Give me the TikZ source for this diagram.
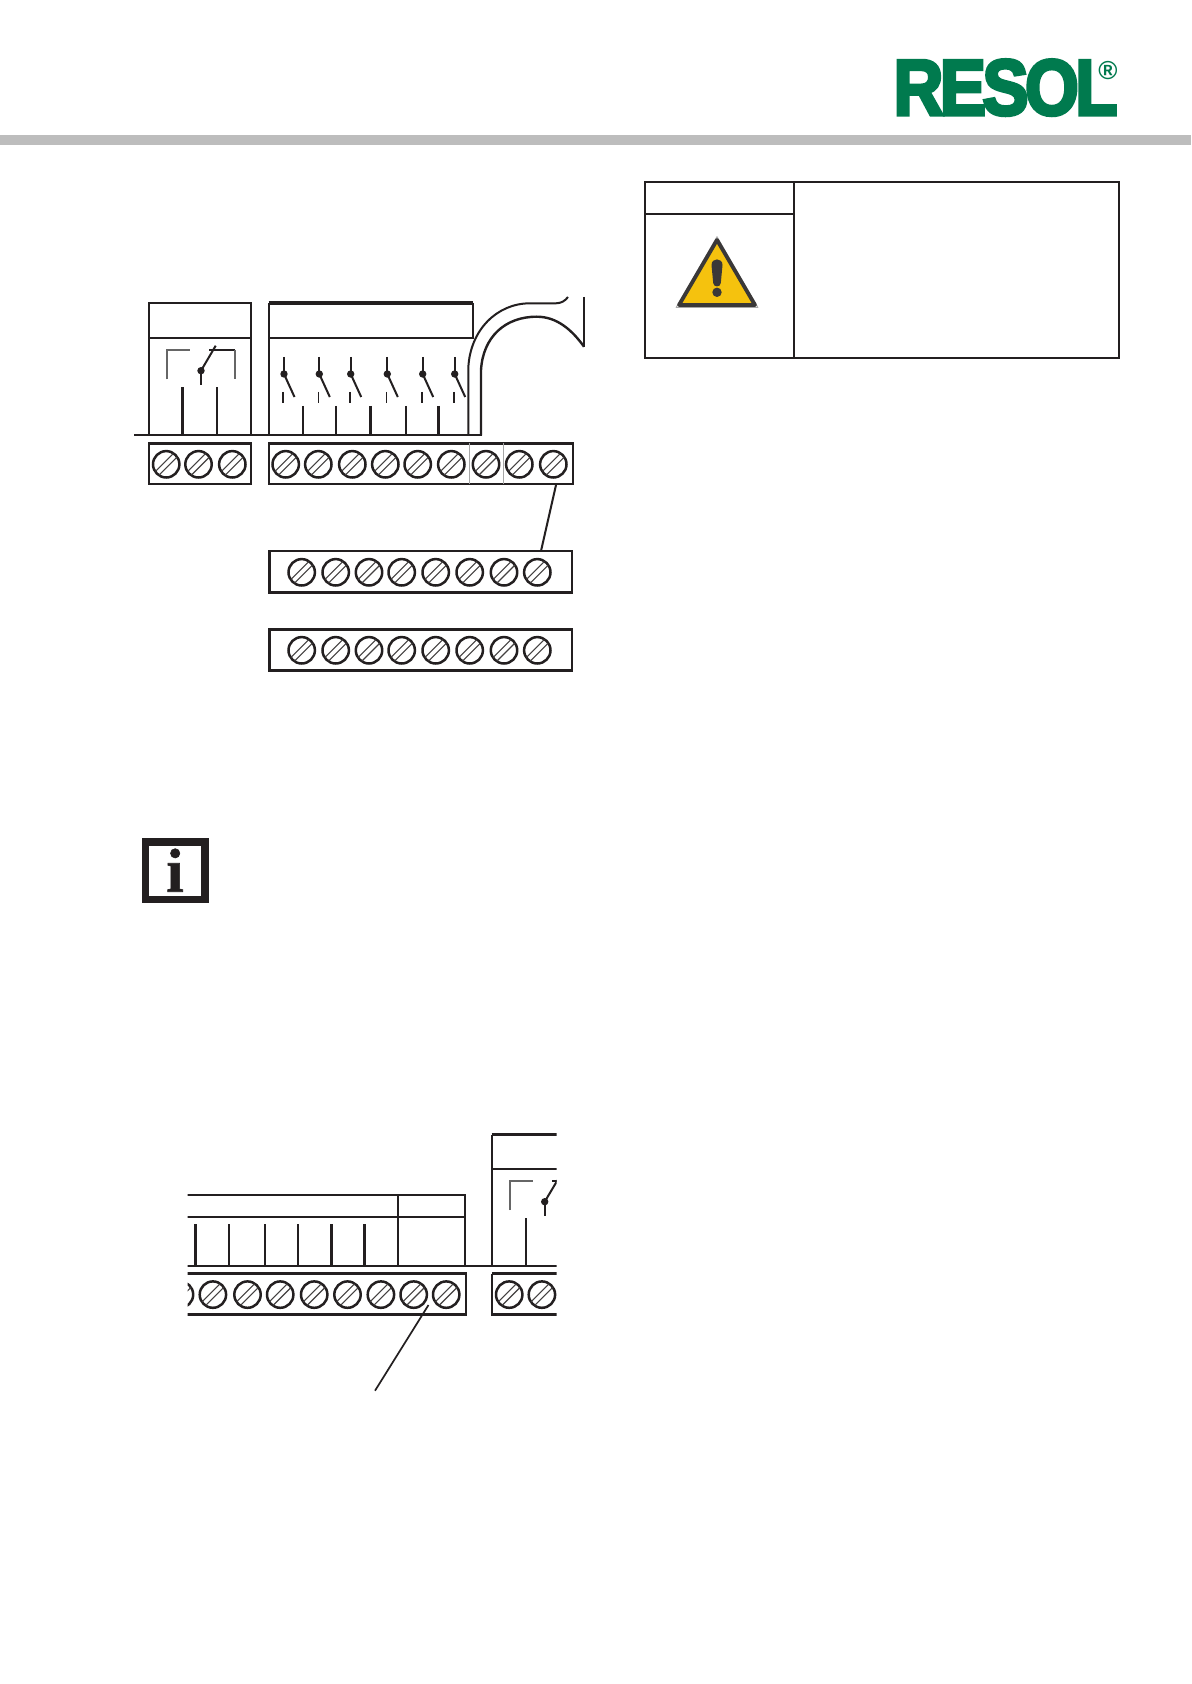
\documentclass[tikz,border=0pt]{standalone}
\usepackage{fontspec}
\setmainfont{Liberation Sans}
\newfontfamily\logofont[FakeBold=4.5,LetterSpace=-5]{Liberation Sans Bold}
\newfontfamily\regfont{Liberation Sans Bold}
\newfontfamily\infofont[FakeBold=1]{Liberation Serif Bold}
\definecolor{resolgreen}{HTML}{007A4E}
\definecolor{barcol}{HTML}{BDBDBD}
\definecolor{inkcol}{HTML}{231F20}
\definecolor{warnyellow}{HTML}{F5C20E}
\definecolor{warnink}{HTML}{3A3838}
\tikzset{
  thinl/.style={line width=1pt,draw=inkcol},
  hairl/.style={line width=1pt,draw=black!60},
  stem/.style={line width=1pt,draw=inkcol},
  stemb/.style={line width=1.5pt,draw=inkcol},
  blockbox/.style={line width=1.25pt,draw=inkcol},
  screw/.pic={
    \draw[line width=1.25pt,draw=inkcol,fill=white] (0,0) circle (13.2);
    \draw[line width=.55pt,draw=inkcol!85] (10.74,-7.06) -- (-7.06,10.74);
    \draw[line width=.55pt,draw=inkcol!85] (7.06,-10.74) -- (-10.74,7.06);
  },
  closedsw/.pic={
    \draw[stem] (0,-17) -- (0,0);
    \fill[inkcol] (0,0) circle (3.7);
    \draw[stem] (0,0) -- (10.5,23);
    \draw[stem,line width=.8pt] (-1,18) -- (-1,29);
  }
}
\begin{document}
\begin{tikzpicture}[x=.5pt,y=-.5pt]
\useasboundingbox (0,0) rectangle (1191,1684);
\fill[white] (0,0) rectangle (1191,1684);
% header
\fill[barcol] (0,135) rectangle (1191,145.5);
\node[inner sep=0,outer sep=0,anchor=south west,text=resolgreen] (logo) at (893.5,115.5)
  {\resizebox{112pt}{27.5pt}{\logofont RESOL}\llap{\raisebox{17.6pt}{\regfont\fontsize{13}{13}\selectfont ®}}};
% warning table
\draw[line width=1.05pt,draw=inkcol] (645,182) rectangle (1119,357.7);
\draw[line width=1.05pt,draw=inkcol] (794,182) -- (794,357.7);
\draw[line width=1.05pt,draw=inkcol] (645,213.7) -- (794,213.7);
\draw[line width=.35pt,draw=black!35,fill=white,line join=round] (717,236.5) -- (758,307.5) -- (676,307.5) -- cycle;
\draw[line width=1.9pt,draw=warnink,fill=warnyellow,line join=round] (717,240) -- (755,305) -- (679,305) -- cycle;
\fill[warnink] (711.5,265) .. controls (711.5,257.5) and (722.5,257.5) .. (722.5,265)
  -- (720.8,283) .. controls (720.8,287.5) and (713.2,287.5) .. (713.2,283) -- cycle;
\fill[warnink] (717,292.3) circle (4.7);
% info icon
\draw[line width=3.6pt,draw=inkcol,fill=white] (145.6,842) rectangle (205,899.2);
\node[inner sep=0,font=\infofont\fontsize{31}{31}\selectfont,text=inkcol,anchor=base] (infoi) at (175,891.7) {i};
% upper-left wiring
\draw[thinl] (134,435.3) -- (482,435.3);
\draw[thinl] (149,435.3) |- (251,303) -- (251,435.3);
\draw[thinl] (149,338) -- (251,338);
\draw[thinl] (269,435.3) -- (269,303);
\draw[line width=1.6pt,draw=inkcol] (268.5,303) -- (473,303);
\draw[thinl] (473,303) -- (473,338) -- (269,338);
\draw[hairl] (166.7,379.3) -- (166.7,350) -- (190.3,350);
\draw[thinl] (209.3,350) -- (234.7,350);
\draw[hairl] (234.7,350) -- (234.7,379.3);
\fill[inkcol] (201,370.7) circle (3.7);
\draw[stem] (201,370.7) -- (215.7,345.7);
\draw[stem] (201,370.7) -- (201,385);
\draw[stemb] (182.3,387.3) -- (182.3,435.3);
\draw[stem] (216.7,387.3) -- (216.7,435.3);
\foreach \sx in {284,319.3,350.7,387.3,422.7,454.7}
  \pic at (\sx,374) {closedsw};
\foreach \sx/\st in {303/stem,336/stem,370.3/stemb,406/stem,438.3/stemb}
  \draw[\st] (\sx,406) -- (\sx,435.3);
% bent cable
\draw[thinl] (468.3,435.3) -- (468.3,368) .. controls (470,330) and (497,303.3) .. (530,303.3)
  -- (556,303.3) .. controls (561,303.3) and (565,301) .. (568,297);
\draw[line width=1.2pt,draw=inkcol] (481,435.3) -- (481,370) .. controls (483,337) and (505,316.7) .. (536.7,316.7)
  .. controls (557,316.7) and (572,330) .. (584,346.7);
\draw[thinl] (584,297) -- (584,347);
% terminal blocks
\draw[blockbox] (149,443.5) rectangle (251,484);
\foreach \sx in {166.2,198.5,232.3} \pic at (\sx,464.3) {screw};
\draw[blockbox] (268.8,443.5) rectangle (573,484);
\draw[line width=.5pt,draw=black!35] (469.3,443) -- (469.3,484);
\draw[line width=.7pt,draw=black!35] (503.3,443) -- (503.3,484);
\foreach \sx in {285.7,318.3,352.3,385.3,417.7,451.3,486,519.3,553.3} \pic at (\sx,464.3) {screw};
\draw[blockbox] (269.7,551) rectangle (571.8,592.3);
\foreach \sx in {301.7,335.7,369,401.7,435.7,469.7,504,537.3} \pic at (\sx,572.3) {screw};
\draw[blockbox] (269.7,629.3) rectangle (571.8,670.7);
\foreach \sx in {301.7,335.7,369,401.7,435.7,469.7,504,537.3} \pic at (\sx,650.3) {screw};
\coordinate (leadA) at (556,485);
\coordinate (leadB) at (541,551);
\draw[thinl] (leadA) -- (leadB);
% lower wiring, cropped at both sides
\begin{scope}
\clip (187.7,1100) rectangle (556.7,1400);
\draw[thinl] (180,1266) -- (560,1266);
\draw[thinl] (180,1195) -- (465,1195) -- (465,1266);
\draw[thinl] (180,1216.7) -- (465,1216.7);
\draw[thinl] (398,1195) -- (398,1266);
\foreach \sx/\st in {195.7/stemb,229/stem,265/stem,297.7/stem,331.7/stemb,364.3/stemb}
  \draw[\st] (\sx,1224.3) -- (\sx,1266);
\draw[thinl] (492,1266) -- (492,1134.7);
\draw[line width=1.6pt,draw=inkcol] (491.5,1134.7) -- (560,1134.7);
\draw[thinl] (492,1168.7) -- (560,1168.7);
\draw[stem] (525.7,1218.3) -- (525.7,1266);
\draw[hairl] (510,1210) -- (510,1181) -- (533.3,1181);
\fill[inkcol] (544.7,1201.7) circle (3.7);
\draw[stem] (544.7,1201.7) -- (560,1176);
\draw[stem] (544.7,1201.7) -- (544.7,1215.7);
\draw[thinl] (552,1181) -- (560,1181);
\draw[blockbox] (170,1273.6) rectangle (466,1314.7);
\foreach \sx in {180,212.9,247.5,280.2,314.2,347.5,380.9,413.7,446.2} \pic at (\sx,1294.6) {screw};
\draw[blockbox] (492,1273.6) -- (560,1273.6);
\draw[blockbox] (492,1273.6) -- (492,1314.7) -- (560,1314.7);
\foreach \sx in {509.2,541.9} \pic at (\sx,1294.6) {screw};
\end{scope}
\coordinate (leadC) at (428.5,1305);
\coordinate (leadD) at (375,1390.7);
\draw[thinl,line width=.85pt] (leadC) -- (leadD);
\end{tikzpicture}
\end{document}
